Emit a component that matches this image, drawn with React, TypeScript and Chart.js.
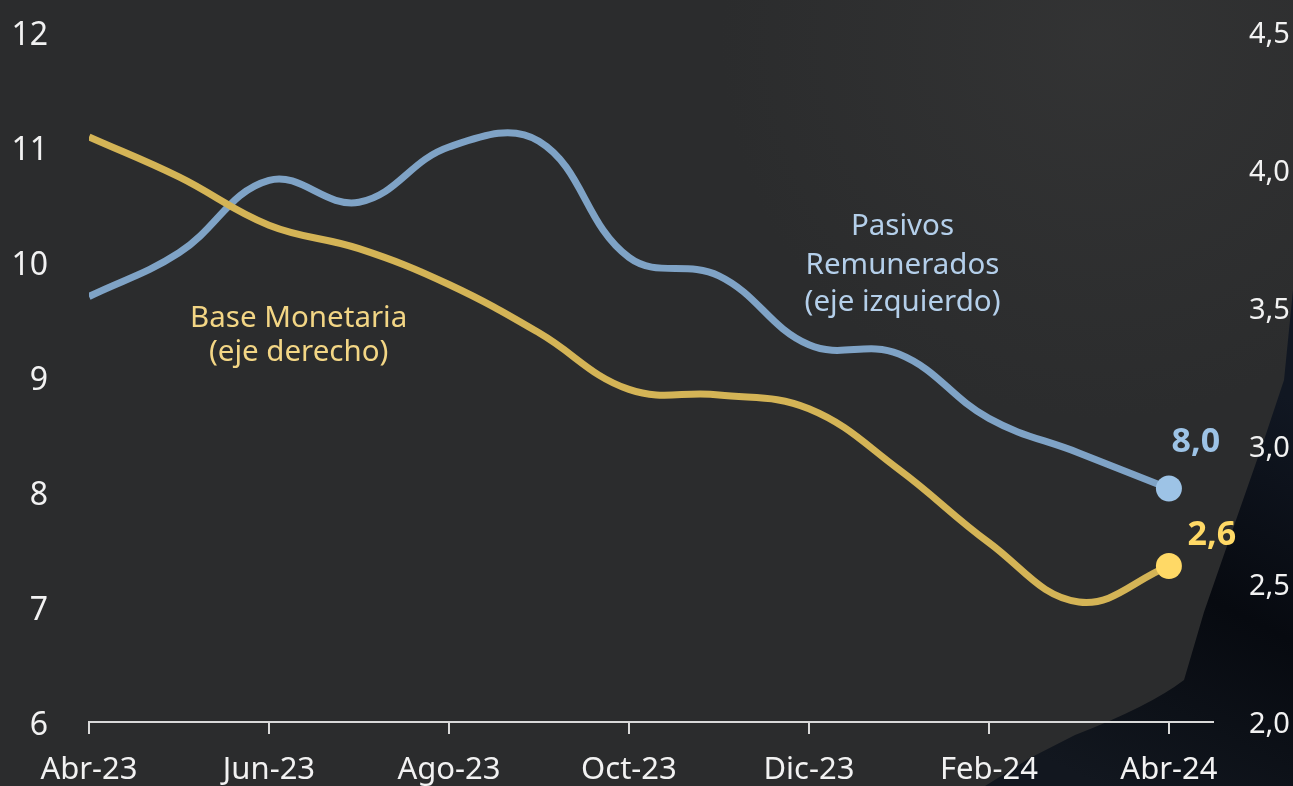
import React, { useEffect, useRef } from "react";
import { Chart, registerables } from "chart.js";

Chart.register(...registerables);

const months = ["Abr-23", "May-23", "Jun-23", "Jul-23", "Ago-23", "Sep-23", "Oct-23", "Nov-23", "Dic-23", "Ene-24", "Feb-24", "Mar-24", "Abr-24"];
const pasivosRemunerados = [9.70, 10.08, 10.71, 10.52, 11.0, 11.05, 10.04, 9.88, 9.28, 9.2, 8.64, 8.34, 8.03];
const baseMonetaria = [4.12, 3.975, 3.8, 3.715, 3.585, 3.41, 3.205, 3.185, 3.135, 2.915, 2.65, 2.435, 2.565];
const leftTicks = [6, 7, 8, 9, 10, 11, 12];
const rightTicks = [2.0, 2.5, 3.0, 3.5, 4.0, 4.5];

const FONT = "'Noto Sans', 'Open Sans', sans-serif";
const BLUE_LINE = "#7fa3c6";
const BLUE_DOT = "#9dc3e6";
const BLUE_TEXT = "#b4cfea";
const YELLOW_LINE = "#d4b456";
const YELLOW_DOT = "#ffd966";
const YELLOW_TEXT = "#f3d685";

const fmt = (v: number) => v.toFixed(1).replace(".", ",");

const bgPlugin = {
  id: "bg",
  beforeDraw(chart: any) {
    const { ctx, width, height } = chart;
    ctx.save();
    ctx.fillStyle = "#2b2c2d";
    ctx.fillRect(0, 0, width, height);
    let g = ctx.createRadialGradient(1100, 40, 10, 1100, 40, 380);
    g.addColorStop(0, "rgba(64,64,64,0.35)");
    g.addColorStop(1, "rgba(64,64,64,0)");
    ctx.fillStyle = g;
    ctx.fillRect(0, 0, width, height);
    // dark navy shape bottom right
    ctx.beginPath();
    ctx.moveTo(1293, 290);
    ctx.lineTo(1284, 380);
    ctx.lineTo(1264, 440);
    ctx.lineTo(1236, 520);
    ctx.lineTo(1204, 612);
    ctx.lineTo(1184, 680);
    ctx.quadraticCurveTo(1150, 706, 1075, 735);
    ctx.lineTo(1030, 758);
    ctx.lineTo(985, 786);
    ctx.lineTo(1293, 786);
    ctx.closePath();
    const ng = ctx.createLinearGradient(1293, 400, 1100, 786);
    ng.addColorStop(0, "#111722");
    ng.addColorStop(0.5, "#070a10");
    ng.addColorStop(1, "#12171f");
    ctx.fillStyle = ng;
    ctx.fill();
    ctx.restore();
  },
};

const labelPlugin = {
  id: "labels",
  afterDatasetsDraw(chart: any) {
    const { ctx, scales } = chart;
    const x = scales.x;
    const yl = scales.yL;
    ctx.save();
    ctx.textAlign = "center";
    ctx.textBaseline = "middle";
    ctx.font = `29.5px ${FONT}`;
    ctx.fillStyle = YELLOW_TEXT;
    const bx = x.getPixelForValue(2.33);
    ctx.fillText("Base Monetaria", bx, yl.getPixelForValue(9.51));
    ctx.fillText("(eje derecho)", bx, yl.getPixelForValue(9.21));
    ctx.fillStyle = BLUE_TEXT;
    const px = x.getPixelForValue(9.04);
    ctx.fillText("Pasivos", px, yl.getPixelForValue(10.31));
    ctx.fillText("Remunerados", px, yl.getPixelForValue(9.97));
    ctx.fillText("(eje izquierdo)", px, yl.getPixelForValue(9.65));

    // end value labels
    ctx.font = `bold 34px ${FONT}`;
    const mBlue = chart.getDatasetMeta(0).data;
    const lastB = mBlue[mBlue.length - 1];
    ctx.fillStyle = BLUE_DOT;
    ctx.fillText(fmt(pasivosRemunerados[pasivosRemunerados.length - 1]), lastB.x + 27, lastB.y - 46);
    const mY = chart.getDatasetMeta(1).data;
    const lastY = mY[mY.length - 1];
    ctx.fillStyle = YELLOW_DOT;
    ctx.fillText(fmt(baseMonetaria[baseMonetaria.length - 1]), lastY.x + 43, lastY.y - 31);
    ctx.restore();
  },
};

export default function App() {
  const ref = useRef<HTMLCanvasElement | null>(null);
  useEffect(() => {
    document.body.style.margin = "0";
    const n = months.length;
    const radii = months.map((_, i) => (i === n - 1 ? 13 : 0));
    const chart = new Chart(ref.current as HTMLCanvasElement, {
      type: "line",
      data: {
        datasets: [
          {
            label: "Pasivos Remunerados (eje izquierdo)",
            data: pasivosRemunerados.map((v, i) => ({ x: i, y: v })),
            yAxisID: "yL",
            borderColor: BLUE_LINE,
            borderWidth: 7,
            tension: 0.4,
            pointRadius: radii,
            pointHoverRadius: radii,
            pointBackgroundColor: BLUE_DOT,
            pointBorderWidth: 0,
            order: 2,
          },
          {
            label: "Base Monetaria (eje derecho)",
            data: baseMonetaria.map((v, i) => ({ x: i, y: v })),
            yAxisID: "yR",
            borderColor: YELLOW_LINE,
            borderWidth: 7,
            tension: 0.4,
            pointRadius: radii,
            pointHoverRadius: radii,
            pointBackgroundColor: YELLOW_DOT,
            pointBorderWidth: 0,
            order: 1,
          },
        ],
      },
      options: {
        animation: false,
        responsive: true,
        maintainAspectRatio: false,
        layout: { padding: { top: 32, left: 0, right: 0, bottom: 0 } },
        plugins: { legend: { display: false }, tooltip: { enabled: false } },
        events: [],
        scales: {
          x: {
            type: "linear",
            min: 0,
            max: 12.49,
            afterFit: (s: any) => {
              s.height = 64;
            },
            border: { display: true, color: "#d9d9d9", width: 2 },
            grid: { drawOnChartArea: false, drawTicks: true, tickLength: 12, color: "#d9d9d9", lineWidth: 2 },
            ticks: {
              stepSize: 2,
              includeBounds: false,
              autoSkip: false,
              maxRotation: 0,
              color: "#f2f2f2",
              font: { family: FONT, size: 31 },
              padding: 18,
              callback: (v: any) => months[v] ?? "",
            },
          },
          yL: {
            type: "linear",
            position: "left",
            min: leftTicks[0],
            max: leftTicks[leftTicks.length - 1],
            afterFit: (s: any) => {
              s.width = 89;
              s.paddingTop = 0;
              s.paddingBottom = 0;
            },
            afterBuildTicks: (s: any) => {
              s.ticks = leftTicks.map((v) => ({ value: v }));
            },
            border: { display: false },
            grid: { display: false, drawTicks: false },
            ticks: {
              color: "#f2f2f2",
              font: { family: FONT, size: 32 },
              padding: 41,
              labelOffset: 4,
              callback: (v: any) => String(v),
            },
          },
          yR: {
            type: "linear",
            position: "right",
            min: rightTicks[0],
            max: rightTicks[rightTicks.length - 1],
            afterFit: (s: any) => {
              s.width = 80;
              s.paddingTop = 0;
              s.paddingBottom = 0;
            },
            afterBuildTicks: (s: any) => {
              s.ticks = rightTicks.map((v) => ({ value: v }));
            },
            border: { display: false },
            grid: { display: false, drawTicks: false },
            ticks: {
              color: "#f2f2f2",
              font: { family: FONT, size: 29 },
              padding: 36,
              labelOffset: 3,
              callback: (v: any) => fmt(Number(v)),
            },
          },
        },
      },
      plugins: [bgPlugin, labelPlugin],
    } as any);
    return () => chart.destroy();
  }, []);
  return (
    <div style={{ position: "absolute", left: 0, top: 0, width: 1293, height: 786 }}>
      <canvas ref={ref} />
    </div>
  );
}
